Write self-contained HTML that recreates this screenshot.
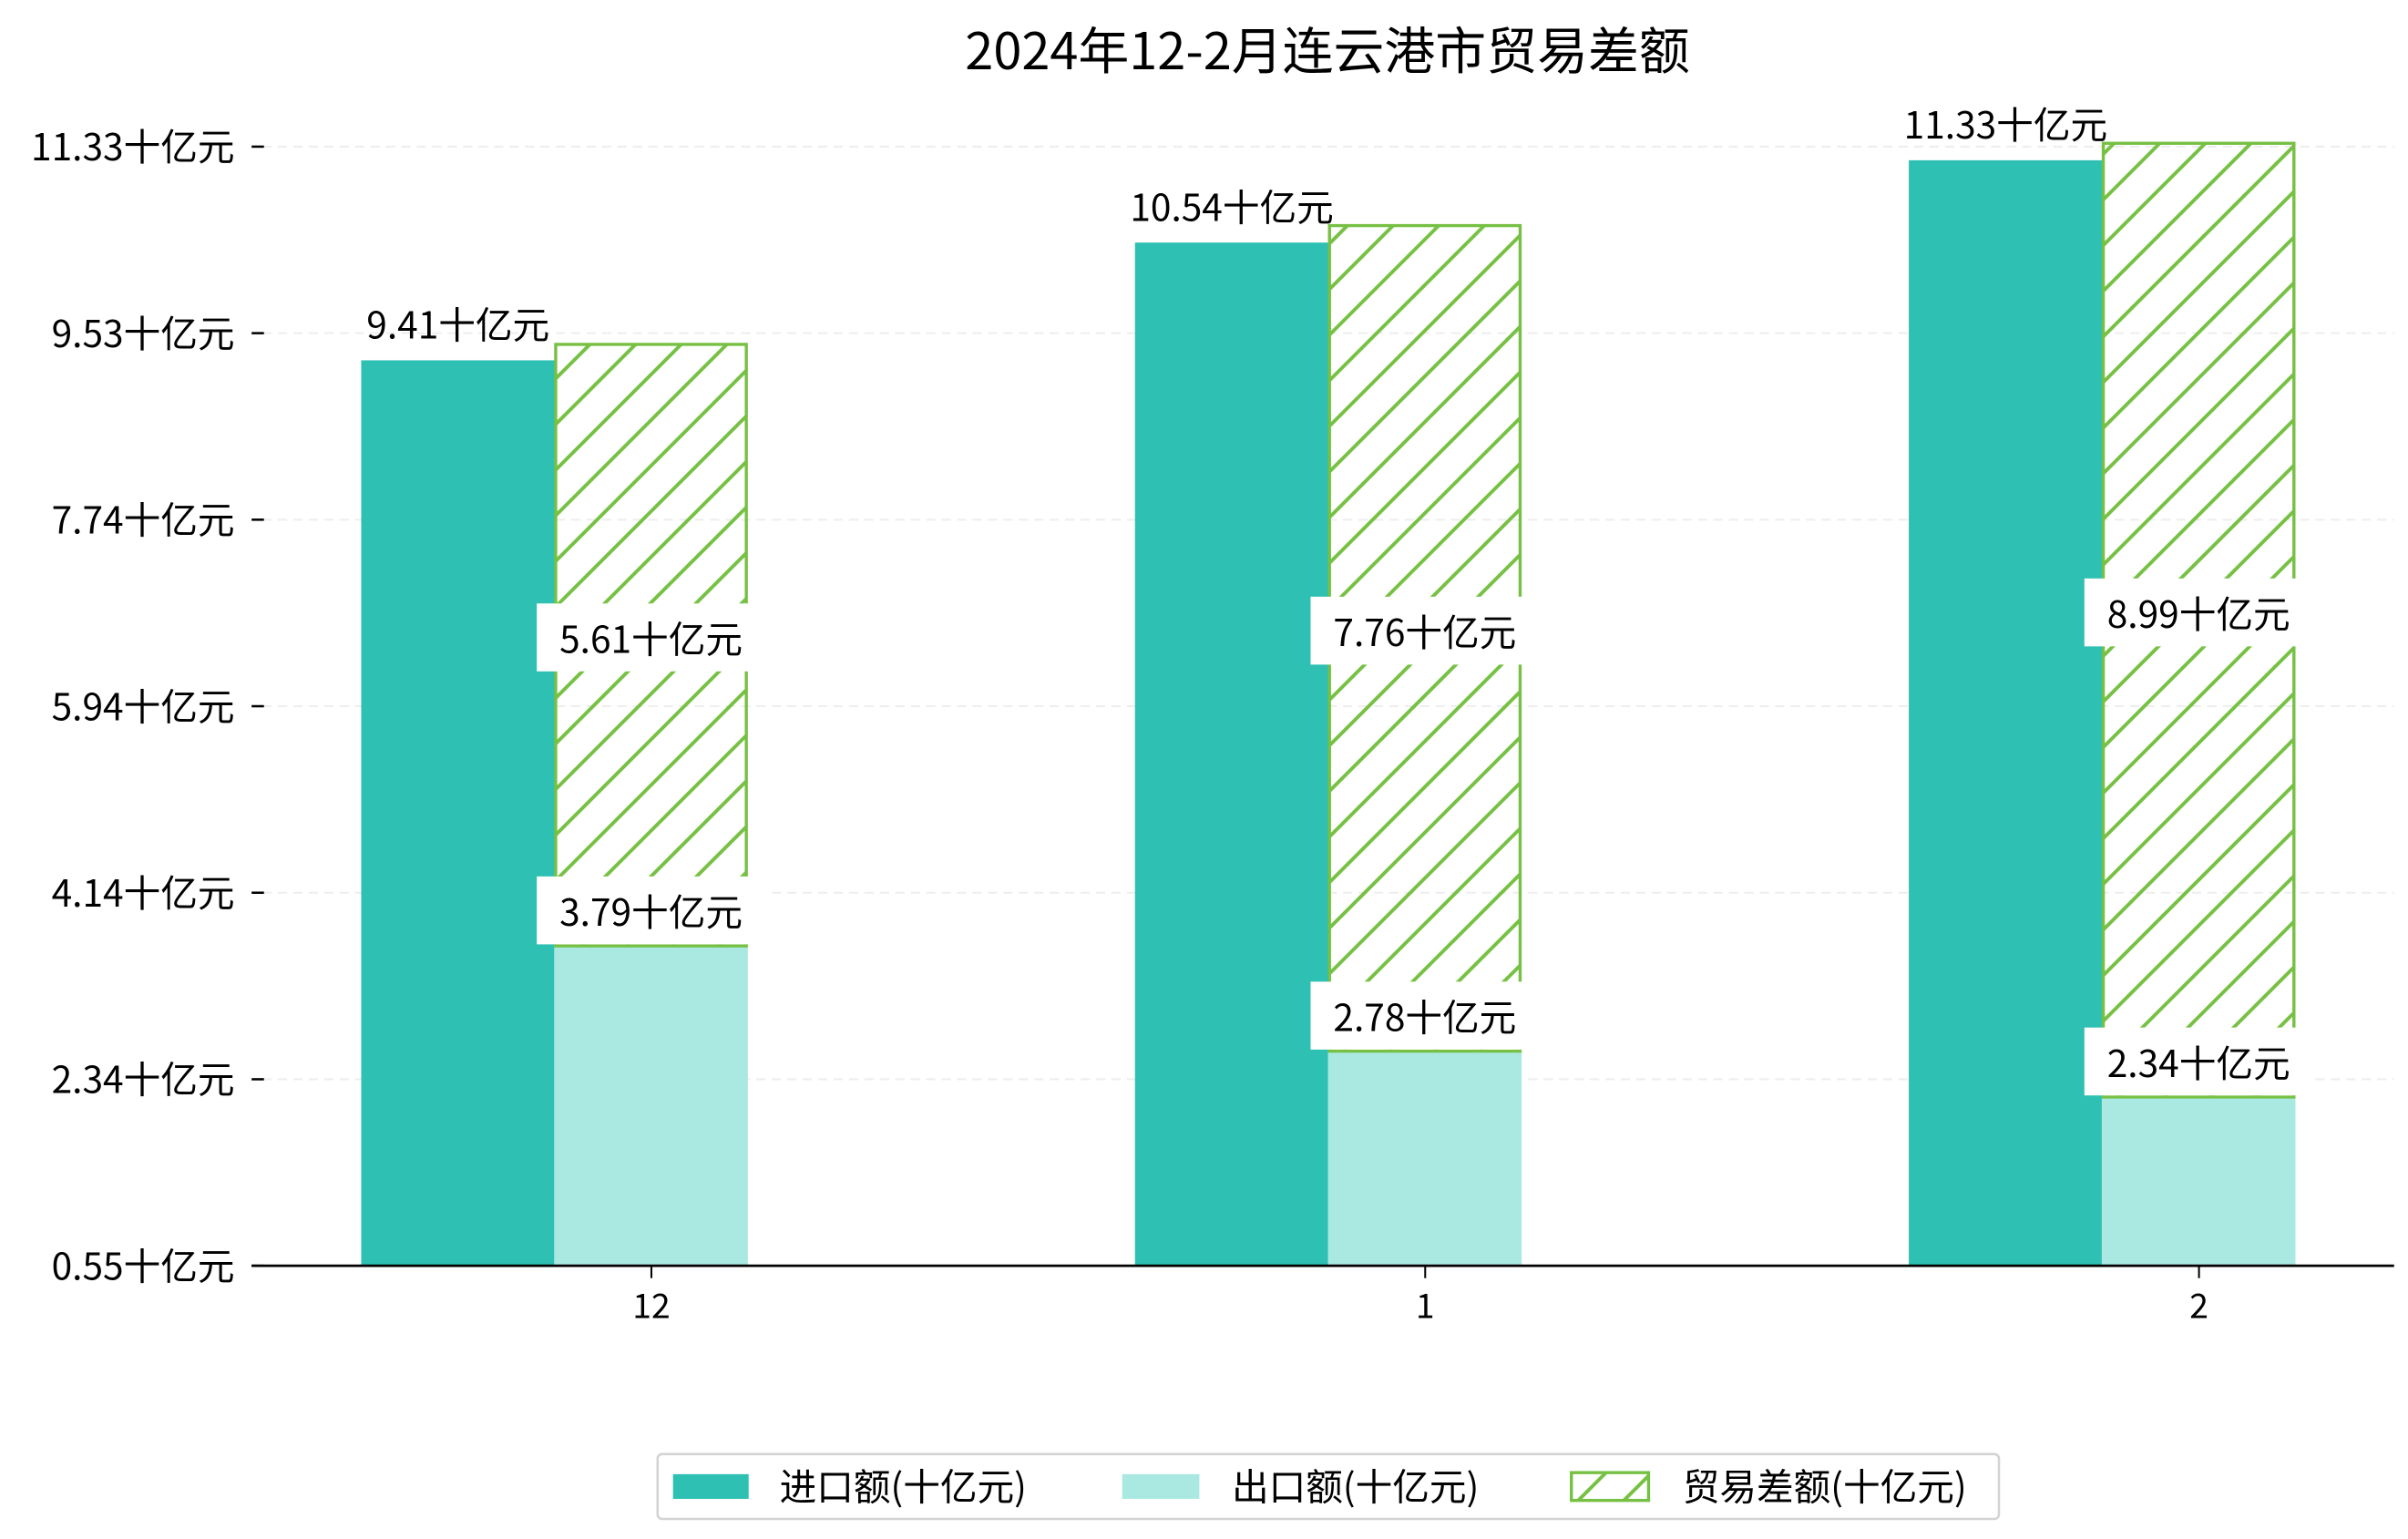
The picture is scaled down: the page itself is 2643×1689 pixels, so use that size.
<!DOCTYPE html>
<html><head><meta charset="utf-8"><style>
html,body{margin:0;padding:0;background:#fff}
svg{display:block}
text{font-family:"WenQuanYi Zen Hei","Noto Sans CJK SC",sans-serif;fill:#000}
</style></head><body>
<svg id="chart" width="2643" height="1689" viewBox="0 0 1560 997" preserveAspectRatio="none" xmlns="http://www.w3.org/2000/svg">
<defs>
<pattern id="hatch" patternUnits="userSpaceOnUse" width="20.9" height="20.9" patternTransform="rotate(45)">
<line x1="10" y1="-2" x2="10" y2="23" stroke="#76c043" stroke-width="2.3"/>
</pattern>
</defs>
<text x="860" y="45" font-size="33" text-anchor="middle">2024年12-2月连云港市贸易差额</text>
<g id="grid"></g><g id="bars"></g><g id="labels"></g>
<line x1="163" y1="820" x2="1551" y2="820" stroke="#000" stroke-width="1.6"/>
<g id="xticks"></g><g id="yticks"></g>
<g>
<rect x="426" y="942" width="869" height="42" rx="3" fill="#fff" stroke="#d3d3d3" stroke-width="1.5"/>
<rect x="436" y="955" width="49" height="16" fill="#2ec0b3"/>
<text x="505" y="972" font-size="24">进口额(十亿元)</text>
<rect x="727" y="955" width="50" height="16" fill="#aae8e2"/>
<text x="798" y="972" font-size="24">出口额(十亿元)</text>
<rect x="1018" y="954" width="50" height="18" fill="url(#hatch)" stroke="#76c043" stroke-width="2"/>
<text x="1090" y="972" font-size="24">贸易差额(十亿元)</text>
</g>
</svg>
<script>
const categories = ["12", "1", "2"];
const importVals = [9.41, 10.54, 11.33];
const exportVals = [3.79, 2.78, 2.34];
const balanceVals = [5.61, 7.76, 8.99];
const yTickLabels = ["0.55", "2.34", "4.14", "5.94", "7.74", "9.53", "11.33"];

const NS = "http://www.w3.org/2000/svg";
const base = 0.72, scale = 67.5, y0 = 820;
function y(v){ return y0 - (v - base) * scale; }
function tickY(i){ return 820 - i * (725 / 6); }
function cx(i){ return 422 + i * 501.3; }
const bw = 125.5;
function mk(tag, attrs, parent){ const e = document.createElementNS(NS, tag); for (const k in attrs) e.setAttribute(k, attrs[k]); parent.appendChild(e); return e; }
const grid = document.getElementById('grid'), bars = document.getElementById('bars'), labels = document.getElementById('labels');
const xt = document.getElementById('xticks'), yt = document.getElementById('yticks');

yTickLabels.forEach((t, i) => {
  const ty = tickY(i);
  if (i > 0) {
    const g = mk('line', {x1:170, x2:1551, y1:ty, y2:ty, stroke:'#eeeeee', 'stroke-dasharray':'6,4', 'stroke-width':1.2}, grid);
    
    
  }
  const tk = mk('line', {x1:163, x2:171, y1:ty, y2:ty, stroke:'#000', 'stroke-width':1.5}, yt);
  
  
  const tx = mk('text', {x:152, y:ty + 9, 'font-size':24, 'text-anchor':'end'}, yt);
  tx.textContent = t + '十亿元';
  
  
});

function boxLabel(x, yc, txt, name){
  const r = mk('rect', {x:x - 74, y:yc - 23, width:148, height:44, fill:'#fff'}, labels);
  
  
  const t = mk('text', {x:x, y:yc + 9, 'font-size':24, 'text-anchor':'middle'}, labels);
  t.textContent = txt;
  
  
}

categories.forEach((c, i) => {
  const xc = cx(i);
  const ix = xc - 188, ex = xc - 63;
  const ib = mk('rect', {x:ix, y:y(importVals[i]), width:bw, height:y0 - y(importVals[i]), fill:'#2ec0b3'}, bars);
  
  
  const eTop = y(exportVals[i]);
  const eb = mk('rect', {x:ex, y:eTop, width:bw, height:y0 - eTop, fill:'#aae8e2'}, bars);
  
  
  const hTop = y(exportVals[i] + balanceVals[i]) - 11;
  const hb = mk('rect', {x:ex + 1, y:hTop, width:bw - 2, height:eTop - hTop, fill:'url(#hatch)', stroke:'#76c043', 'stroke-width':2}, bars);
  
  

  const il = mk('text', {x:ix + bw / 2, y:y(importVals[i]) - 14, 'font-size':24, 'text-anchor':'middle'}, labels);
  il.textContent = importVals[i].toFixed(2) + '十亿元';
  
  
  boxLabel(ex + bw / 2, (hTop + eTop) / 2 - 4, balanceVals[i].toFixed(2) + '十亿元', 'balance-value-label');
  boxLabel(ex + bw / 2, eTop - 22, exportVals[i].toFixed(2) + '十亿元', 'export-value-label');

  const tk = mk('line', {x1:xc, x2:xc, y1:820, y2:828, stroke:'#000', 'stroke-width':1.2}, xt);
  
  
  const tl = mk('text', {x:xc, y:854, 'font-size':22, 'text-anchor':'middle'}, xt);
  tl.textContent = c;
  
  
});
</script>
</body></html>
